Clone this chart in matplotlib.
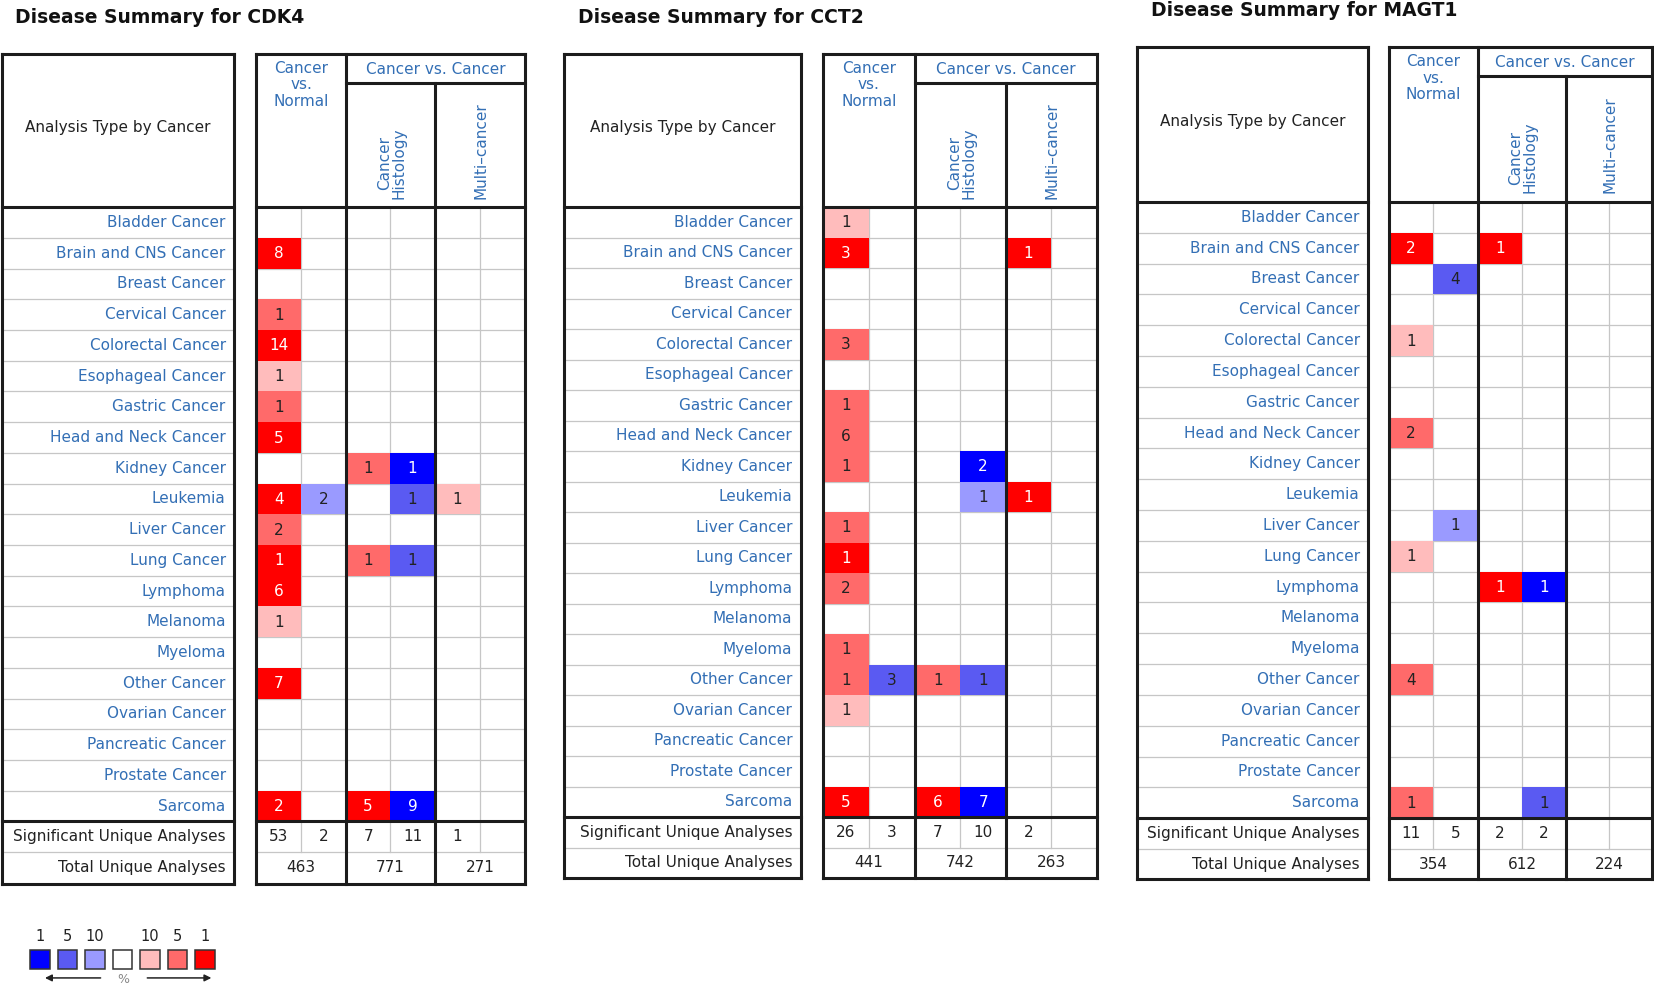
"""Oncomine-style disease summary tables for CDK4, CCT2 and MAGT1 -> out.png"""

import matplotlib

matplotlib.use("Agg")
import matplotlib.pyplot as plt
from matplotlib.patches import Rectangle

BLUE_TXT, INK, THIN, THICK = "#336fb5", "#222222", "#c6c6c6", "#1c1c1c"
SHADE = {1: "#ff0000", 5: "#ff6a6a", 10: "#ffbcbc",
         -1: "#0000ff", -5: "#5a5af2", -10: "#9a9aff"}

plt.rcParams.update({"font.family": "DejaVu Sans", "font.size": 11})

CANCERS = ["Bladder Cancer", "Brain and CNS Cancer", "Breast Cancer",
           "Cervical Cancer", "Colorectal Cancer", "Esophageal Cancer",
           "Gastric Cancer", "Head and Neck Cancer", "Kidney Cancer",
           "Leukemia", "Liver Cancer", "Lung Cancer", "Lymphoma",
           "Melanoma", "Myeloma", "Other Cancer", "Ovarian Cancer",
           "Pancreatic Cancer", "Prostate Cancer", "Sarcoma"]
GROUPS = ["Cancer\nvs.\nNormal", "Cancer\nHistology", "Multi–cancer"]

# (cancer, column 0..5, count, shade: +red / -blue, 1/5/10 = top %)
CDK4_CELLS = [
    ("Brain and CNS Cancer", 0, 8, 1), ("Cervical Cancer", 0, 1, 5),
    ("Colorectal Cancer", 0, 14, 1), ("Esophageal Cancer", 0, 1, 10),
    ("Gastric Cancer", 0, 1, 5), ("Head and Neck Cancer", 0, 5, 1),
    ("Kidney Cancer", 2, 1, 5), ("Kidney Cancer", 3, 1, -1),
    ("Leukemia", 0, 4, 1), ("Leukemia", 1, 2, -10),
    ("Leukemia", 3, 1, -5), ("Leukemia", 4, 1, 10),
    ("Liver Cancer", 0, 2, 5), ("Lung Cancer", 0, 1, 1),
    ("Lung Cancer", 2, 1, 5), ("Lung Cancer", 3, 1, -5),
    ("Lymphoma", 0, 6, 1), ("Melanoma", 0, 1, 10),
    ("Other Cancer", 0, 7, 1), ("Sarcoma", 0, 2, 1),
    ("Sarcoma", 2, 5, 1), ("Sarcoma", 3, 9, -1),
]
CDK4_SIG = [53, 2, 7, 11, 1, None]
CDK4_TOTAL = [463, 771, 271]

CCT2_CELLS = [
    ("Bladder Cancer", 0, 1, 10), ("Brain and CNS Cancer", 0, 3, 1),
    ("Brain and CNS Cancer", 4, 1, 1), ("Colorectal Cancer", 0, 3, 5),
    ("Gastric Cancer", 0, 1, 5), ("Head and Neck Cancer", 0, 6, 5),
    ("Kidney Cancer", 0, 1, 5), ("Kidney Cancer", 3, 2, -1),
    ("Leukemia", 3, 1, -10), ("Leukemia", 4, 1, 1),
    ("Liver Cancer", 0, 1, 5), ("Lung Cancer", 0, 1, 1),
    ("Lymphoma", 0, 2, 5), ("Myeloma", 0, 1, 5),
    ("Other Cancer", 0, 1, 5), ("Other Cancer", 1, 3, -5),
    ("Other Cancer", 2, 1, 5), ("Other Cancer", 3, 1, -5),
    ("Ovarian Cancer", 0, 1, 10), ("Sarcoma", 0, 5, 1),
    ("Sarcoma", 2, 6, 1), ("Sarcoma", 3, 7, -1),
]
CCT2_SIG = [26, 3, 7, 10, 2, None]
CCT2_TOTAL = [441, 742, 263]

MAGT1_CELLS = [
    ("Brain and CNS Cancer", 0, 2, 1), ("Brain and CNS Cancer", 2, 1, 1),
    ("Breast Cancer", 1, 4, -5), ("Colorectal Cancer", 0, 1, 10),
    ("Head and Neck Cancer", 0, 2, 5), ("Liver Cancer", 1, 1, -10),
    ("Lung Cancer", 0, 1, 10), ("Lymphoma", 2, 1, 1),
    ("Lymphoma", 3, 1, -1), ("Other Cancer", 0, 4, 5),
    ("Sarcoma", 0, 1, 5), ("Sarcoma", 3, 1, -5),
]
MAGT1_SIG = [11, 5, 2, 2, None, None]
MAGT1_TOTAL = [354, 612, 224]

LEGEND_SHADES = [-1, -5, -10, 0, 10, 5, 1]

# layout, in the 1568 x 938 frame the figure is mapped onto
PANELS = [
    dict(gene="CDK4", cells=CDK4_CELLS, sig=CDK4_SIG, total=CDK4_TOTAL,
         title=(14, 17), lx=(2, 222), gx=(243, 328, 412, 498),
         top=51, cvc=79, hdr=196.5, rows_end=779, bottom=838),
    dict(gene="CCT2", cells=CCT2_CELLS, sig=CCT2_SIG, total=CCT2_TOTAL,
         title=(548, 17), lx=(535, 759), gx=(780, 867.5, 953.5, 1040),
         top=51, cvc=79, hdr=196.5, rows_end=775, bottom=833),
    dict(gene="MAGT1", cells=MAGT1_CELLS, sig=MAGT1_SIG, total=MAGT1_TOTAL,
         title=(1091, 10), lx=(1078, 1297), gx=(1316.5, 1401, 1484.5, 1566),
         top=44.5, cvc=72.5, hdr=191.5, rows_end=776, bottom=834),
]


def hline(ax, y, x0, x1, thick):
    ax.plot([x0, x1], [y, y], color=THICK if thick else THIN,
            lw=2.2 if thick else 0.9, zorder=3 if thick else 1,
            solid_capstyle="projecting")


def vline(ax, x, y0, y1, thick):
    ax.plot([x, x], [y0, y1], color=THICK if thick else THIN,
            lw=2.2 if thick else 0.9, zorder=3 if thick else 1,
            solid_capstyle="projecting")


def draw_panel(ax, p):
    lx0, lx1 = p["lx"]
    g = p["gx"]
    top, hdr, rend, bot = p["top"], p["hdr"], p["rows_end"], p["bottom"]
    rh = (rend - hdr) / len(CANCERS)
    sig_end = rend + rh
    ax.text(*p["title"], f"Disease Summary for {p['gene']}", fontsize=13.5,
            fontweight="bold", color="#111111", va="center", ha="left")

    # both boxes share the outline, header rule and row rules
    for x0, x1 in ((lx0, lx1), (g[0], g[3])):
        hline(ax, top, x0, x1, True)
        hline(ax, bot, x0, x1, True)
        hline(ax, hdr, x0, x1, True)
        hline(ax, rend, x0, x1, True)
        vline(ax, x0, top, bot, True)
        vline(ax, x1, top, bot, True)
        for i in range(1, len(CANCERS)):
            hline(ax, hdr + i * rh, x0, x1, False)
        hline(ax, sig_end, x0, x1, False)

    ax.text((lx0 + lx1) / 2, (top + hdr) / 2 - 3, "Analysis Type by Cancer",
            color=INK, ha="center", va="center")
    for i, name in enumerate(CANCERS):
        ax.text(lx1 - 8, hdr + (i + 0.5) * rh, name, color=BLUE_TXT,
                ha="right", va="center")
    ax.text(lx1 - 8, rend + rh / 2, "Significant Unique Analyses", color=INK,
            ha="right", va="center")
    ax.text(lx1 - 8, (sig_end + bot) / 2, "Total Unique Analyses", color=INK,
            ha="right", va="center")

    # right box
    vline(ax, g[1], top, bot, True)
    vline(ax, g[2], p["cvc"], bot, True)
    hline(ax, p["cvc"], g[1], g[3], True)
    sub = [(g[k] + g[k + 1]) / 2 for k in range(3)]
    for x in sub:
        vline(ax, x, hdr, sig_end, False)
    colx = []
    for k in range(3):
        colx += [(g[k], sub[k]), (sub[k], g[k + 1])]

    ax.text(sub[0], top + 6.5, GROUPS[0], color=BLUE_TXT, ha="center",
            va="top", linespacing=1.15)
    ax.text((g[1] + g[3]) / 2, (top + p["cvc"]) / 2 + 0.5,
            "Cancer vs. Cancer", color=BLUE_TXT, ha="center", va="center")
    for k in (1, 2):
        ax.text(sub[k] + 1, hdr - 8, GROUPS[k], color=BLUE_TXT, rotation=90,
                ha="center", va="bottom", linespacing=0.95)

    for name, col, n, shade in p["cells"]:
        r = CANCERS.index(name)
        x0, x1 = colx[col]
        y0 = hdr + r * rh
        ax.add_patch(Rectangle((x0, y0), x1 - x0, rh, facecolor=SHADE[shade],
                               edgecolor="none", zorder=2))
        ax.text((x0 + x1) / 2, y0 + rh / 2 + 0.5, str(n), ha="center",
                va="center", zorder=4,
                color="white" if abs(shade) == 1 else INK)

    for (x0, x1), v in zip(colx, p["sig"]):
        if v is not None:
            ax.text((x0 + x1) / 2, rend + rh / 2, str(v), color=INK,
                    ha="center", va="center")
    for k, v in enumerate(p["total"]):
        ax.text(sub[k], (sig_end + bot) / 2, str(v), color=INK,
                ha="center", va="center")


def draw_legend(ax):
    size, step, x = 18.5, 26.1, 28.5
    labels = {-1: "1", -5: "5", -10: "10", 10: "10", 5: "5", 1: "1"}
    for s in LEGEND_SHADES:
        ax.add_patch(Rectangle((x, 901), size, size, zorder=3, lw=1.1,
                               facecolor=SHADE.get(s, "white"),
                               edgecolor="#333333"))
        if s in labels:
            ax.text(x + size / 2, 888.5, labels[s], ha="center", va="center",
                    fontsize=10.5, color=INK)
        x += step
    ax.annotate("", xy=(40, 927.5), xytext=(98, 927.5),
                arrowprops=dict(arrowstyle="-|>", color="#222222", lw=1.1,
                                mutation_scale=10))
    ax.annotate("", xy=(203, 927.5), xytext=(137, 927.5),
                arrowprops=dict(arrowstyle="-|>", color="#222222", lw=1.1,
                                mutation_scale=10))
    ax.text(116.5, 929, "%", ha="center", va="center", fontsize=9,
            color="#888888")


def main():
    fig = plt.figure(figsize=(16.54, 9.89), dpi=100)
    ax = fig.add_axes([0, 0, 1, 1])
    ax.set_xlim(0, 1568)
    ax.set_ylim(938, 0)
    ax.axis("off")
    for p in PANELS:
        draw_panel(ax, p)
    draw_legend(ax)
    fig.savefig("out.png", dpi=100, facecolor="white")


if __name__ == "__main__":
    main()
